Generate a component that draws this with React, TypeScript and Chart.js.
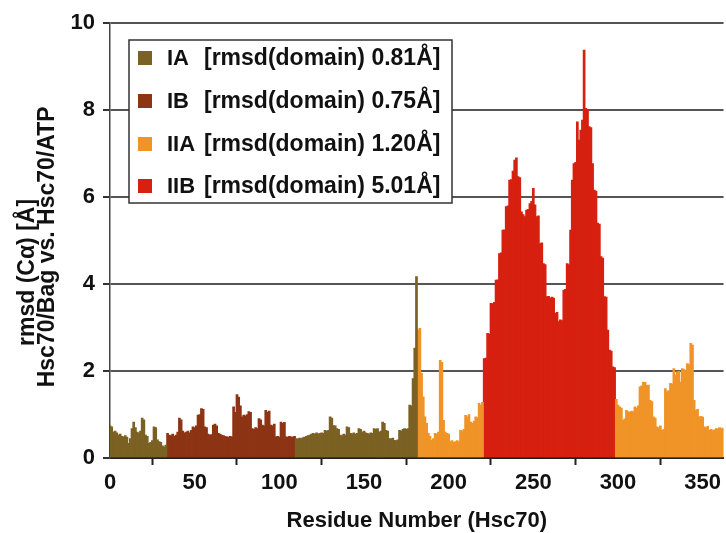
import React, { useEffect, useRef } from 'react';
import { Chart, registerables } from 'chart.js';

Chart.register(...registerables);

// ---- data ----
const domainNames = ['IA', 'IB', 'IIA', 'IIB'];
const domainRmsd = [
  '[rmsd(domain) 0.81Å]',
  '[rmsd(domain) 0.75Å]',
  '[rmsd(domain) 1.20Å]',
  '[rmsd(domain) 5.01Å]',
];
const domainColors = ['#7b6123', '#8c3414', '#f09428', '#d62010'];

// residue segments -> domain index
const segStart = [0, 34, 110, 182, 221, 299];
const segEnd = [33, 109, 181, 220, 298, 362];
const segDomain = [0, 1, 0, 2, 3, 2];

// per-residue Cα rmsd (Å), residues 0..362
const rmsd = [
  // 0-9
  0.74, 0.72, 0.6, 0.62, 0.58, 0.53, 0.55, 0.5, 0.49, 0.52,
  // 10-19
  0.48, 0.34, 0.45, 0.68, 0.83, 0.7, 0.6, 0.58, 0.62, 0.92,
  // 20-29
  0.88, 0.53, 0.5, 0.34, 0.36, 0.4, 0.72, 0.7, 0.42, 0.38,
  // 30-33
  0.36, 0.28, 0.26, 0.3,
  // 34-39
  0.57, 0.53, 0.52, 0.55, 0.5, 0.53,
  // 40-49
  0.6, 0.92, 0.88, 0.62, 0.58, 0.6, 0.62, 0.58, 0.64, 0.72,
  // 50-59
  0.7, 0.74, 0.99, 1.0, 1.14, 1.12, 0.72, 0.7, 0.55, 0.53,
  // 60-69
  0.54, 0.76, 0.78, 0.74, 0.57, 0.55, 0.53, 0.52, 0.5, 0.49,
  // 70-79
  0.48, 0.5, 0.49, 1.18, 1.05, 1.46, 1.4, 1.2, 0.95, 0.99,
  // 80-89
  0.97, 1.0, 1.07, 1.05, 0.68, 0.66, 0.7, 0.68, 0.91, 0.88,
  // 90-99
  0.76, 0.74, 1.1, 1.05, 1.08, 0.76, 0.74, 0.78, 0.49, 0.5,
  // 100-109
  0.48, 0.83, 0.8, 0.82, 0.49, 0.48, 0.5, 0.49, 0.48, 0.5,
  // 110-119
  0.45, 0.44, 0.46, 0.45, 0.47, 0.48, 0.5, 0.52, 0.53, 0.55,
  // 120-129
  0.57, 0.55, 0.58, 0.56, 0.57, 0.58, 0.57, 0.64, 0.62, 0.64,
  // 130-139
  0.95, 0.92, 0.75, 0.74, 0.68, 0.66, 0.53, 0.52, 0.55, 0.53,
  // 140-149
  0.72, 0.7, 0.57, 0.56, 0.58, 0.55, 0.57, 0.68, 0.66, 0.6,
  // 150-159
  0.62, 0.58, 0.57, 0.55, 0.58, 0.57, 0.68, 0.66, 0.68, 0.6,
  // 160-169
  0.62, 0.83, 0.8, 0.64, 0.62, 0.45, 0.44, 0.46, 0.41, 0.4,
  // 170-179
  0.42, 0.64, 0.62, 0.66, 0.68, 0.66, 0.68, 1.22, 1.2, 1.83,
  // 180-181
  2.53, 4.17,
  // 182-189
  2.94, 2.98, 1.95, 1.41, 0.95, 0.8, 0.57, 0.5,
  // 190-199
  0.41, 0.45, 0.57, 0.55, 0.6, 2.25, 2.2, 0.87, 0.6, 0.57,
  // 200-209
  0.55, 0.38, 0.4, 0.36, 0.38, 0.4, 0.38, 0.64, 0.62, 0.66,
  // 210-220
  0.98, 0.95, 1.0, 0.83, 0.8, 0.85, 0.95, 0.93, 1.26, 1.22, 1.28,
  // 221-229
  2.29, 2.3, 2.87, 2.85, 3.56, 3.55, 3.58, 4.09, 4.1,
  // 230-239
  4.7, 4.72, 5.24, 5.25, 5.78, 5.8, 6.39, 6.4, 6.6, 6.85,
  // 240-249
  6.9, 6.47, 6.45, 5.66, 5.6, 5.55, 5.7, 5.72, 5.85, 5.9,
  // 250-259
  6.2, 5.82, 5.55, 5.57, 4.93, 4.95, 4.47, 4.45, 3.71, 3.72,
  // 260-269
  3.68, 3.7, 3.68, 3.33, 3.35, 3.14, 3.18, 3.16, 3.86, 3.88,
  // 270-279
  4.47, 4.45, 5.24, 6.39, 6.77, 6.8, 7.73, 7.31, 7.54, 7.77,
  // 280-289
  9.38, 8.04, 8.02, 7.62, 7.6, 6.77, 6.16, 6.14, 5.4, 5.38,
  // 290-298
  4.63, 4.6, 3.71, 3.7, 2.94, 2.48, 2.46, 2.1, 2.08,
  // 299-309
  1.35, 1.22, 1.18, 1.15, 0.87, 0.9, 1.1, 1.07, 1.05, 1.08, 1.07,
  // 310-319
  1.18, 1.15, 1.2, 1.64, 1.66, 1.75, 1.74, 1.67, 1.68, 1.33,
  // 320-329
  1.3, 0.95, 0.92, 0.72, 0.7, 0.74, 0.64, 0.66, 1.6, 1.53,
  // 330-339
  1.55, 1.72, 1.7, 2.06, 1.91, 1.98, 2.0, 1.75, 2.06, 2.04,
  // 340-349
  2.02, 2.17, 2.15, 2.64, 2.6, 1.33, 1.1, 1.12, 0.95, 0.96,
  // 350-362
  0.94, 0.72, 0.7, 0.73, 0.64, 0.66, 0.63, 0.65, 0.68, 0.67, 0.7, 0.68, 0.69,
];

const xMin = 0;
const xMax = 362.35;
const xStep = 50;
const yMin = 0;
const yMax = 10;
const yStep = 2;

const xTitle = 'Residue Number (Hsc70)';
// trailing spaces shift each rotated line to match the original placement
const yTitle = ['rmsd (Cα) [Å]          ', 'Hsc70/Bag vs. Hsc70/ATP  '];

const FONT = "'Liberation Sans', Arial, Helvetica, sans-serif";

function domainOf(r: number): number {
  for (let i = 0; i < segStart.length; i++) {
    if (r >= segStart[i] && r <= segEnd[i]) return segDomain[i];
  }
  return -1;
}

const legendPlugin = {
  id: 'domainLegend',
  afterDraw(chart: any) {
    const ctx = chart.ctx as CanvasRenderingContext2D;
    const bx = 129, by = 40, bw = 323, bh = 163;
    ctx.save();
    ctx.fillStyle = '#ffffff';
    ctx.fillRect(bx, by, bw, bh);
    ctx.strokeStyle = '#333333';
    ctx.lineWidth = 1.5;
    ctx.strokeRect(bx, by, bw, bh);
    const rows = [58, 101, 144, 186];
    ctx.textBaseline = 'middle';
    ctx.textAlign = 'left';
    chart.data.datasets.forEach((ds: any, i: number) => {
      const cy = rows[i];
      ctx.fillStyle = ds.backgroundColor;
      ctx.fillRect(138, cy - 7, 14, 14);
      ctx.fillStyle = '#111111';
      ctx.font = `bold 22px ${FONT}`;
      ctx.fillText(ds.label, 167, cy + 1);
      ctx.font = `bold 23px ${FONT}`;
      ctx.fillText(domainRmsd[i], 204, cy + 1);
    });
    ctx.restore();
  },
};

export default function App() {
  const canvasRef = useRef<HTMLCanvasElement | null>(null);

  useEffect(() => {
    if (!canvasRef.current) return;
    const datasets = domainNames.map((name, d) => ({
      label: name,
      data: rmsd
        .map((v, r) => ({ x: r, y: v }))
        .filter((p) => domainOf(p.x) === d),
      backgroundColor: domainColors[d],
      borderColor: domainColors[d],
      borderWidth: 0,
      barThickness: 2.2,
      inflateAmount: 0.25,
      grouped: false,
    }));

    const chart = new Chart(canvasRef.current, {
      type: 'bar',
      data: { datasets },
      options: {
        responsive: false,
        animation: false,
        devicePixelRatio: 1,
        layout: { padding: { top: 23, right: 0, left: 0, bottom: 0 } },
        plugins: {
          legend: { display: false },
          tooltip: { enabled: false },
        },
        scales: {
          x: {
            type: 'linear',
            min: xMin,
            max: xMax,
            offset: false,
            ticks: {
              stepSize: xStep,
              includeBounds: false,
              color: '#111',
              font: { family: FONT, size: 22, weight: 'bold' },
              padding: 5,
              maxRotation: 0,
            },
            grid: {
              display: true,
              drawOnChartArea: false,
              drawTicks: true,
              tickLength: 7,
              tickColor: '#222',
              tickWidth: 2,
            },
            border: { display: true, color: '#222', width: 2 },
            title: {
              display: true,
              text: xTitle,
              color: '#111',
              font: { family: FONT, size: 22, weight: 'bold', lineHeight: 1.0 },
              padding: { top: 0, bottom: 1 },
            },
            afterFit: (scale: any) => {
              scale.height = 75;
            },
          },
          y: {
            type: 'linear',
            min: yMin,
            max: yMax,
            ticks: {
              stepSize: yStep,
              color: '#111',
              font: { family: FONT, size: 22, weight: 'bold' },
              padding: 8,
            },
            grid: {
              color: '#555555',
              lineWidth: 2,
              drawTicks: true,
              tickLength: 7,
              tickColor: '#333',
              tickWidth: 2,
            },
            border: { display: true, color: '#444', width: 1.5 },
            title: {
              display: true,
              text: yTitle,
              color: '#111',
              font: { family: FONT, size: 23, weight: 'bold', lineHeight: 0.85 },
              padding: { top: 18, bottom: 0 },
            },
            afterFit: (scale: any) => {
              scale.width = 110;
            },
          },
        },
      },
      plugins: [legendPlugin],
    } as any);

    return () => {
      chart.destroy();
    };
  }, []);

  return (
    <div style={{ position: 'fixed', left: 0, top: 0, width: 726, height: 533, background: '#fff' }}>
      <canvas ref={canvasRef} width={726} height={533} style={{ display: 'block' }} />
    </div>
  );
}
